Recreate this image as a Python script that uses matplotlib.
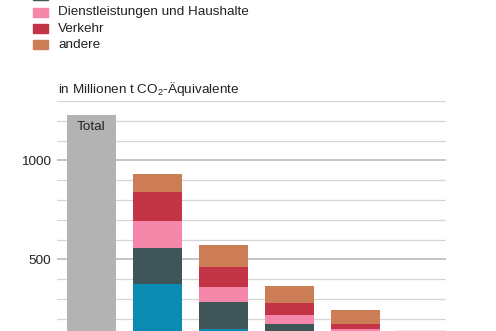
import matplotlib.pyplot as plt
import numpy as np

plt.rcParams["font.family"] = ["Liberation Sans", "DejaVu Sans"]
plt.rcParams["mathtext.default"] = "regular"

# Emissionen je Sektor, Mio. t CO2-Äquivalente
gruppen = ["Total", "G1", "G2", "G3", "G4", "G5"]
total = 1230
sektoren = ["Energiewirtschaft", "Industrie", "Dienstleistungen und Haushalte",
            "Verkehr", "andere"]
energie = [377, 150, 100, 60, 40]
industrie = [182, 136, 73, 50, 30]
dienstleistungen = [133, 73, 47, 40, 25]
verkehr = [148, 101, 58, 25, 15]
andere = [89, 111, 89, 67, 32]

farben = ["#0b8bb4", "#3e5657", "#f587ab", "#c43447", "#cd7d55"]
grau = "#b4b3b4"
fs = 9.7

fig = plt.figure(figsize=(4.96, 3.31), dpi=100)
W, H = 496, 331

# Achse in Pixelkoordinaten platzieren (0 liegt unterhalb des Bildrands)
x0, x1 = 57, 446
y_top, y_zero = 100.9, 358.3
ax = fig.add_axes([x0 / W, (H - y_zero) / H, (x1 - x0) / W, (y_zero - y_top) / H])
ax.set_ylim(0, 1300)
ax.set_xlim(-0.518, 5.376)

for v in range(100, 1301, 100):
    major = v % 500 == 0
    ax.axhline(v, color="#b5b5b5" if major else "#d6d6d6",
               lw=1.1 if major else 0.9, zorder=0)

breite = 0.742
ax.bar(0, total, width=breite, color=grau, zorder=2)
ax.text(0, total - 64, "Total", ha="center", va="center", fontsize=fs,
        color="#222222", zorder=3)

pos = np.arange(1, 6)
reihen = [energie, industrie, dienstleistungen, verkehr, andere]
alphas = [1, 1, 1, 1, 0.18]
unten = np.zeros(5)
for werte, farbe in zip(reihen, farben):
    werte = np.array(werte, dtype=float)
    for i in range(5):
        ax.bar(pos[i], werte[i], bottom=unten[i], width=breite, color=farbe,
               alpha=alphas[i], lw=0, zorder=2)
    unten += werte

ax.set_yticks([500, 1000])
ax.set_yticklabels(["500", "1000"], fontsize=fs, color="#222222")
ax.tick_params(axis="y", length=0, pad=4)
ax.set_xticks([])
for s in ax.spines.values():
    s.set_visible(False)

# Legende
y_leg = [-20.5, -4.5, 12.3, 28.5, 44.5]
for yy, name, farbe in zip(y_leg, sektoren, farben):
    fig.patches.append(plt.Rectangle((33 / W, (H - yy - 4.5) / H), 15 / W, 9 / H,
                                     transform=fig.transFigure, color=farbe))
    fig.text(58 / W, (H - yy) / H, name, fontsize=fs, va="center",
             color="#222222")

fig.text(58 / W, (H - 89) / H, r"in Millionen t CO$_2$-Äquivalente",
         fontsize=fs, va="center", color="#222222")

fig.savefig("out.png", dpi=100)
